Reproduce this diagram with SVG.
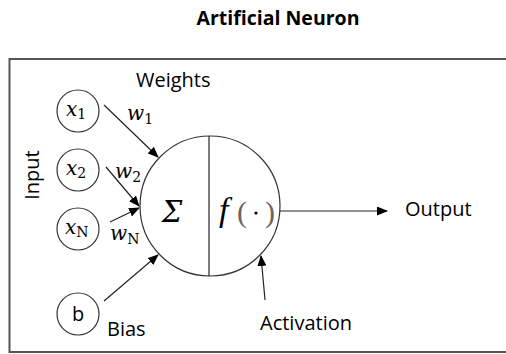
<svg xmlns="http://www.w3.org/2000/svg" width="506" height="354" viewBox="0 0 506 354">
<defs>
<marker id="ah" markerWidth="11" markerHeight="9" refX="10" refY="4.5" orient="auto" markerUnits="userSpaceOnUse">
<path d="M0,0 L11,4.5 L0,9 Z" fill="#000"/>
</marker>
<style>
.lbl{font-family:"Open Sans","Liberation Sans",sans-serif;font-size:20px;fill:#000}
.math{font-family:"DejaVu Serif","Liberation Serif",serif;font-style:italic;fill:#000}
.sub{font-style:normal;font-size:14px}
.fn{font-family:"Liberation Serif","DejaVu Serif",serif;font-style:italic;fill:#000}
.par{font-family:"Liberation Serif","DejaVu Serif",serif;font-size:30px;fill:#6e625b}
.node{fill:#fff;stroke:#333;stroke-width:1.2}
.conn{stroke:#222;stroke-width:1.2;fill:none;marker-end:url(#ah)}
</style>
</defs>
<rect x="0" y="0" width="506" height="354" fill="#fff"/>
<text x="278" y="25" text-anchor="middle" style="font-family:'Open Sans','Liberation Sans',sans-serif;font-weight:bold;font-size:19.5px">Artificial Neuron</text>
<rect x="9.5" y="59" width="510" height="293" fill="none" stroke="#555" stroke-width="2"/>
<text class="lbl" transform="translate(39,175) rotate(-90)" text-anchor="middle">Input</text>
<text class="lbl" x="136" y="87">Weights</text>
<text class="lbl" x="107" y="336">Bias</text>
<text class="lbl" x="260" y="330">Activation</text>
<text class="lbl" x="405" y="216">Output</text>
<g id="x1"><circle class="node" cx="78" cy="111" r="21"/><text class="math" x="66" y="116" font-size="20">x<tspan class="sub" dy="3">1</tspan></text></g>
<g id="x2"><circle class="node" cx="78" cy="170" r="21"/><text class="math" x="66" y="175" font-size="20">x<tspan class="sub" dy="3">2</tspan></text></g>
<g id="xN"><circle class="node" cx="78" cy="229" r="21"/><text class="math" x="65" y="234" font-size="20">x<tspan class="sub" dy="3">N</tspan></text></g>
<g id="b"><circle class="node" cx="78" cy="314" r="21"/><text class="lbl" x="78" y="321" text-anchor="middle" font-size="20">b</text></g>
<g id="neuron">
<circle class="node" cx="210" cy="206" r="70"/>
<line x1="209" y1="136" x2="209" y2="276" stroke="#222" stroke-width="1.2"/>
<text class="math" x="172" y="222" text-anchor="middle" font-size="29">Σ</text>
<text class="fn" x="219" y="221" font-size="34">f</text>
<text class="par" x="237" y="222">(</text>
<circle cx="256" cy="213" r="1.6" fill="#000"/>
<text class="par" x="265" y="222">)</text>
</g>
<g id="weights">
<text class="math" x="127" y="120" font-size="20">w<tspan class="sub" dy="4">1</tspan></text>
<text class="math" x="115" y="178" font-size="20">w<tspan class="sub" dy="4">2</tspan></text>
<text class="math" x="110" y="240" font-size="20">w<tspan class="sub" dy="4">N</tspan></text>
</g>
<g id="connectors">
<line class="conn" x1="104" y1="105" x2="158" y2="157"/>
<line class="conn" x1="106" y1="167" x2="139" y2="206"/>
<line class="conn" x1="110" y1="222" x2="139" y2="208"/>
<line class="conn" x1="104" y1="301" x2="158" y2="255"/>
<line class="conn" x1="265" y1="300" x2="261" y2="256"/>
<line class="conn" x1="280" y1="211" x2="387" y2="211"/>
</g>
</svg>
